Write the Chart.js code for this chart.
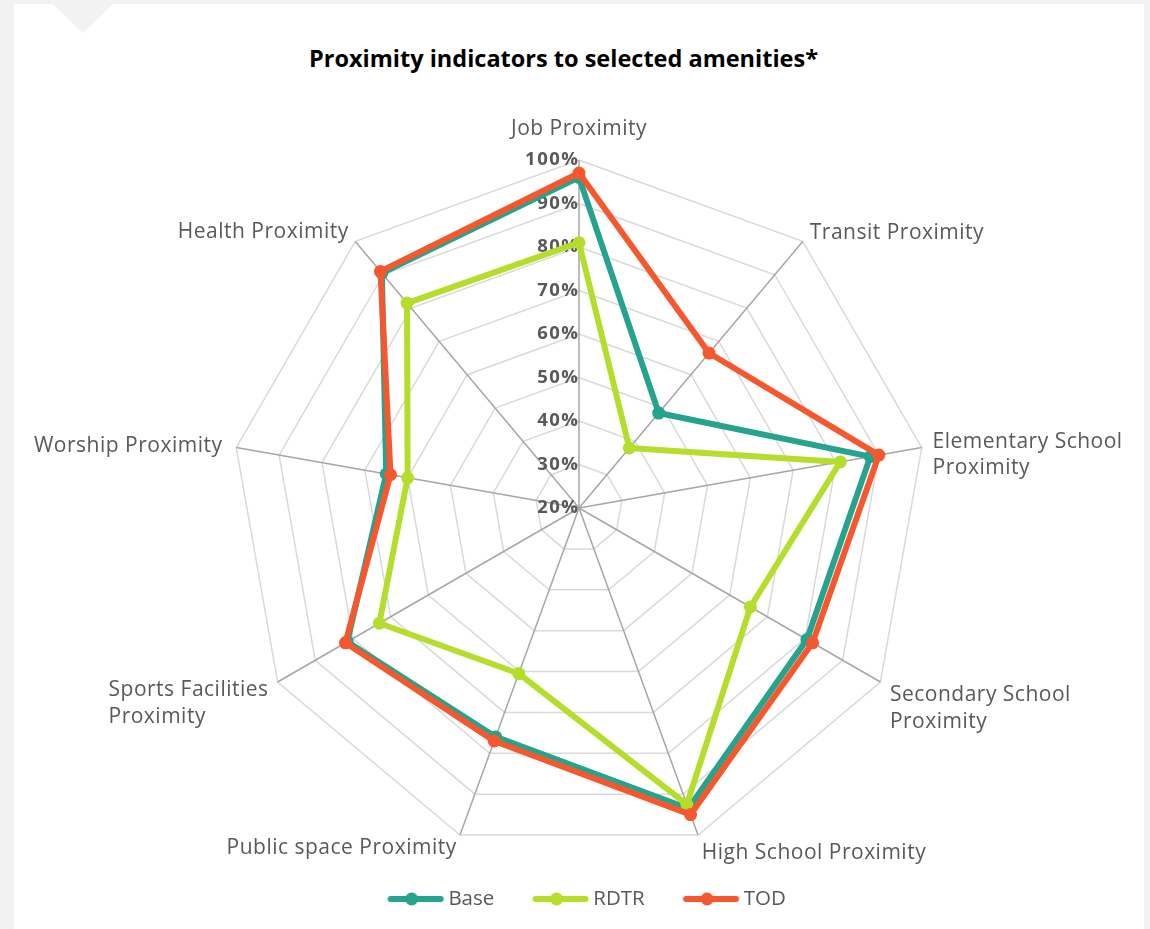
<!DOCTYPE html>
<html>
<head>
<meta charset="utf-8">
<title>Proximity indicators</title>
<script src="https://cdn.jsdelivr.net/npm/chart.js@4.4.1/dist/chart.umd.min.js"></script>
<style>
  html, body { margin: 0; padding: 0; background: #f2f2f2; }
  body { width: 1150px; height: 929px; position: relative; overflow: hidden; font-family: "Open Sans", sans-serif; }
  .card { position: absolute; left: 14px; top: 4px; width: 1130px; height: 925px; background: #fff; }
  .notch { position: absolute; left: 39px; top: 0; width: 0; height: 0;
           border-left: 30px solid transparent; border-right: 30px solid transparent; border-top: 29px solid #f2f2f2; }
  .title { position: absolute; left: 0; top: 44px; width: 1127px; text-align: center;
           font-weight: 700; font-size: 23.5px; line-height: 28px; color: #000; }
  .wrap { position: absolute; left: 0; top: 0; width: 1150px; height: 929px; }
</style>
</head>
<body>
<div class="card"><div class="notch"></div></div>
<div class="title">Proximity indicators to selected amenities*</div>
<div class="wrap"><canvas id="radar"></canvas></div>
<script>
// categories, clockwise from the top
const categories = [
  "Job Proximity",
  "Transit Proximity",
  ["Elementary School", "Proximity"],
  ["Secondary School", "Proximity"],
  "High School Proximity",
  "Public space Proximity",
  ["Sports Facilities", "Proximity"],
  "Worship Proximity",
  "Health Proximity"
];
const baseValues = [96, 48.5, 88, 80.5, 93.5, 76, 81.5, 65, 90.5];
const rdtrValues = [81, 38, 81, 65.5, 92.5, 60.5, 73, 60, 81.5];
const todValues  = [97, 66.5, 90, 82, 95, 77, 82, 64, 91];

const seriesNames = ["Base", "RDTR", "TOD"];
const seriesColors = ["#26a38c", "#b5dd2b", "#f5582f"];

const tickValues = [20, 30, 40, 50, 60, 70, 80, 90, 100];
const tickLabels = ["20%", "30%", "40%", "50%", "60%", "70%", "80%", "90%", "100%"];

const seriesData = [baseValues, rdtrValues, todValues];

// legend marker: short line with a dot, like the Excel legend
function legendMark(color) {
  const c = document.createElement("canvas");
  c.width = 90; c.height = 16;
  const g = c.getContext("2d");
  g.strokeStyle = color; g.lineWidth = 6; g.lineCap = "round";
  g.beginPath(); g.moveTo(30.5, 8); g.lineTo(80.5, 8); g.stroke();
  g.fillStyle = color;
  g.beginPath(); g.arc(51.5, 8, 6.5, 0, Math.PI * 2); g.fill();
  return c;
}
const marks = seriesColors.map(legendMark);

// tick labels left of the vertical axis + category labels around the web
const radarText = {
  id: "radarText",
  beforeDatasetsDraw(chart) {
    const s = chart.scales.r;
    const ctx = chart.ctx;
    ctx.save();
    ctx.fillStyle = "#595959";
    ctx.textBaseline = "middle";

    ctx.font = 'bold 18.5px "Open Sans"';
    ctx.letterSpacing = "1.5px";
    ctx.textAlign = "right";
    s.ticks.forEach(t => {
      const p = s.getPointPositionForValue(0, t.value);
      ctx.fillText(t.label, p.x + 0.5, p.y);
    });

    ctx.font = '21px "Open Sans"';
    ctx.letterSpacing = "0.5px";
    ctx.textAlign = "left";
    const lh = 26.5;
    chart.data.labels.forEach((lab, i) => {
      const lines = [].concat(lab);
      const ang = s.getIndexAngle(i);
      const deg = Math.round(ang * 180 / Math.PI) % 360;
      const cos = Math.cos(ang);
      const right = deg > 0 && deg < 180;
      const p = s.getPointPosition(i, s.drawingArea + 11);
      const w = Math.max(...lines.map(l => ctx.measureText(l).width));
      const h = lines.length * lh;
      let x;
      if (deg === 0 || deg === 180) x = p.x - w / 2;
      else if (right) x = p.x;
      else x = p.x - w + (cos > 0 && cos < 0.5 ? -3 : 0.5);
      let top;
      if (deg === 0) top = p.y - h - 7;
      else if (cos > 0.5) top = p.y - h + (right ? 13.5 : 12.5);
      else if (cos > 0) top = p.y - h / 2 + (right ? 9.5 : 0.5);
      else top = p.y + (right ? -5.5 : -10.5);
      lines.forEach((l, j) => ctx.fillText(l, x, top + lh * (j + 0.5)));
    });
    ctx.restore();
  }
};

new Chart(document.getElementById("radar"), {
  type: "radar",
  data: {
    labels: categories,
    datasets: seriesNames.map((name, i) => ({
      label: name,
      data: seriesData[i],
      borderColor: seriesColors[i],
      backgroundColor: seriesColors[i],
      pointBackgroundColor: seriesColors[i],
      pointBorderColor: seriesColors[i],
      borderWidth: 6,
      borderJoinStyle: "round",
      pointRadius: 5.5,
      pointBorderWidth: 2,
      fill: false,
      order: 3 - i
    }))
  },
  options: {
    responsive: true,
    maintainAspectRatio: false,
    animation: false,
    layout: { padding: { top: 150, bottom: 9.75, left: 231, right: 223 } },
    scales: {
      r: {
        min: 20,
        max: 100,
        afterBuildTicks: s => { s.ticks = tickValues.map(v => ({ value: v })); },
        ticks: { display: false, callback: (v, i) => tickLabels[i] },
        grid: { color: "#d9d9d9", lineWidth: 1.5 },
        angleLines: { color: "#a6a6a6", lineWidth: 1.5 },
        pointLabels: { display: false }
      }
    },
    plugins: {
      tooltip: { enabled: false },
      legend: {
        position: "bottom",
        labels: {
          usePointStyle: true,
          pointStyleWidth: 66,
          padding: 22.75,
          color: "#595959",
          font: { family: "Open Sans", size: 20.5 },
          sort: (a, b) => a.datasetIndex - b.datasetIndex,
          generateLabels(chart) {
            const items = Chart.defaults.plugins.legend.labels.generateLabels(chart);
            items.forEach(it => { it.pointStyle = marks[it.datasetIndex]; });
            return items;
          }
        }
      }
    }
  },
  plugins: [radarText]
});
</script>
</body>
</html>
